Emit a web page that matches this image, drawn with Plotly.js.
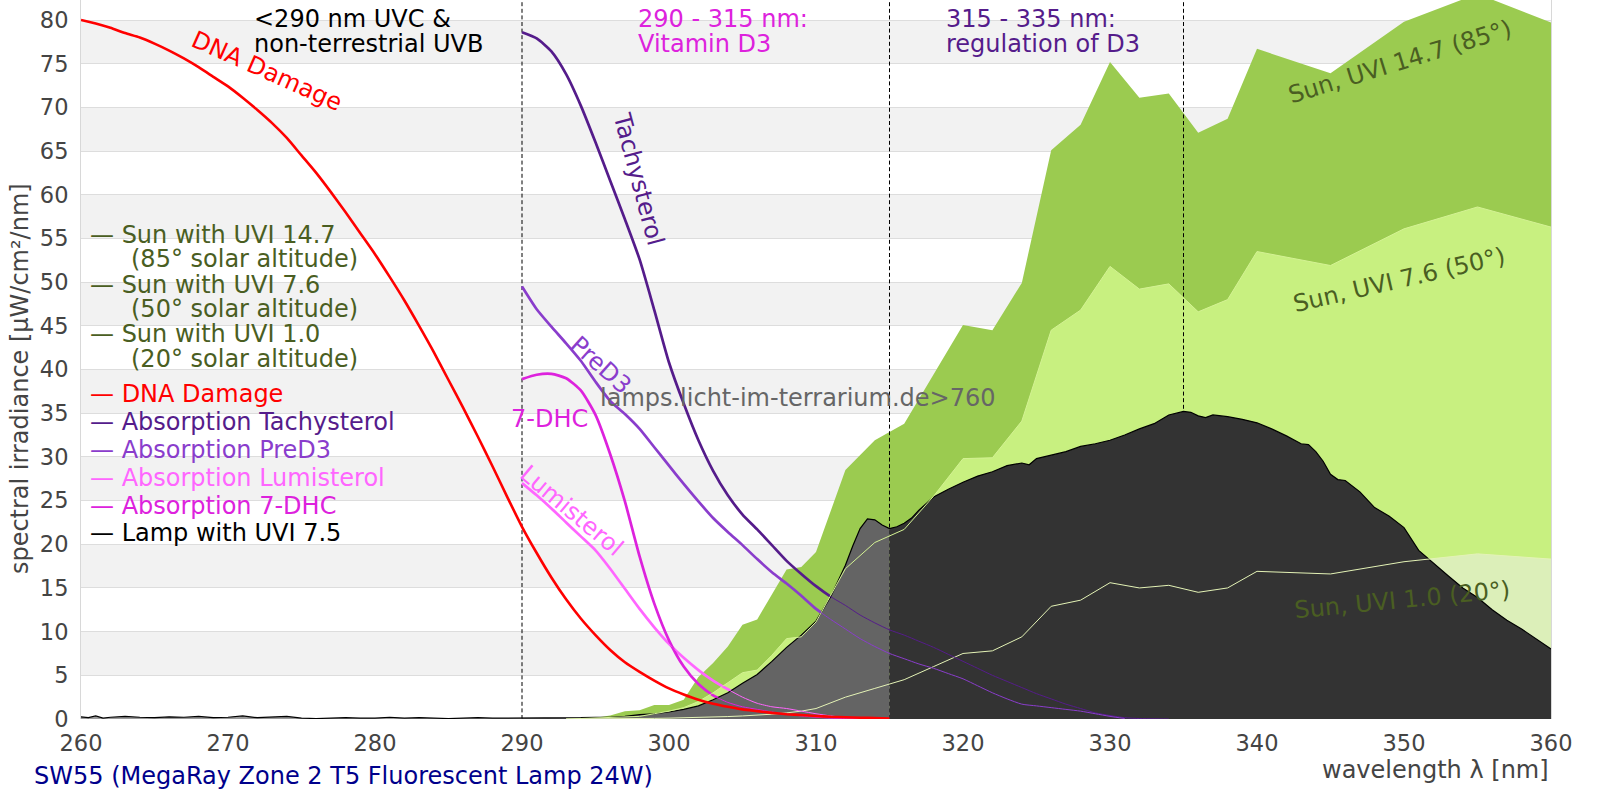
<!DOCTYPE html>
<html><head><meta charset="utf-8">
<script src="https://cdn.plot.ly/plotly-3.0.1.min.js"></script>
<style>html,body{margin:0;padding:0;background:#fff;} #chart{width:1600px;height:800px;}</style>
</head><body><div id="chart"></div>
<script>
// ---------------- data ----------------
const wlDna = [260,261,262,263,264,265,266,267,268,269,270,271,272,273,274,275,276,277,278,279,280,281,282,283,284,285,286,287,288,289,290,291,292,293,294,295,296,297,298,299,300,301,302,303,304,305,306,307,308,309,310,311,312,313,314,315];
const dnaDamage = [80.0,79.6,79.1,78.5,78.0,77.3,76.5,75.6,74.6,73.5,72.4,71.1,69.7,68.2,66.5,64.5,62.5,60.3,58.0,55.6,53.2,50.6,47.9,45.0,42.0,38.8,35.6,32.3,28.9,25.4,22.0,19.0,16.2,13.7,11.5,9.6,7.9,6.5,5.4,4.4,3.5,2.8,2.2,1.75,1.4,1.1,0.9,0.7,0.55,0.45,0.35,0.25,0.2,0.15,0.1,0.05];

const wlAbs = [290,291,292,293,294,295,296,297,298,299,300,301,302,303,304,305,306,307,308,309,310,311,312,313,314,315,316,317,318,319,320,321,322,323,324,325,326,327,328,329,330,331,332,333,334,335];
const tachysterol = [78.6,77.9,76.4,73.8,70.2,66.0,61.6,57.2,52.6,46.8,40.8,36.1,31.9,28.4,25.6,23.4,21.7,19.9,18.1,16.6,15.2,14.0,13.0,11.9,11.0,10.2,9.6,8.9,8.2,7.4,6.6,5.8,5.0,4.3,3.6,2.9,2.3,1.7,1.2,0.7,0.4,0.15,0.05,0.02,0.0];
const preD3 = [49.5,46.9,44.9,43.0,41.0,38.6,36.4,34.9,33.2,31.1,29.0,26.9,24.9,23.0,21.4,19.9,18.3,16.8,15.5,14.1,12.6,11.4,10.3,9.2,8.3,7.5,6.9,6.3,5.8,5.2,4.6,3.8,3.0,2.3,1.7,1.5,1.3,1.1,0.9,0.6,0.3,0.05];
const lumisterol = [27.0,25.6,24.1,22.5,20.9,19.3,17.2,14.9,12.6,10.5,8.6,7.0,5.6,4.4,3.4,2.5,1.8,1.4,1.2,0.9,0.6,0.35,0.15,0.05];
const dhc7 = [38.9,39.4,39.5,39.0,37.6,34.8,30.3,24.9,18.6,13.2,9.0,6.0,4.0,2.7,1.9,1.4,1.1,0.8,0.55,0.35,0.2,0.1,0.05,0.0];

const sunWl = [293,294,295,296,297,298,299,300,301,302,303,304,305,306,307,308,309,310,312,314,316,318,320,322,324,326,328,330,332,334,336,338,340,345,350,355,360];
const sunUvi147 = [0,0.05,0.15,0.4,0.9,1.0,1.6,1.6,2.2,4.8,6.4,8.3,10.8,11.4,14.2,17.1,17.4,19.1,28.5,31.9,33.8,39.4,45.1,44.5,49.9,65.1,68.0,75.2,71.1,71.6,67.1,68.7,76.7,73.9,79.8,83.0,79.7];
const sunUvi76 = [0,0.05,0.1,0.2,0.25,0.3,0.6,0.9,1.3,2.0,3.0,4.1,5.3,5.6,7.3,9.2,9.4,11.1,17.2,20.2,21.7,25.5,29.8,29.9,34.1,44.5,46.8,51.8,49.2,49.8,46.6,48.0,53.5,51.9,56.1,58.6,56.3];
const sunUvi10 = [0,0,0.01,0.02,0.03,0.05,0.07,0.1,0.13,0.17,0.22,0.28,0.35,0.42,0.55,0.7,0.9,1.2,2.5,3.5,4.5,6.0,7.5,7.8,9.4,12.9,13.6,15.6,15.0,15.3,14.5,15.0,16.9,16.6,18.0,18.9,18.3];

const lampWl = [260,260.5,261,261.5,262,263,264,265,266,267,268,269,270,271,272,273,274,275,276,277,278,279,280,281,282,283,284,285,286,287,288,289,290,291,292,293,294,295,296,297,298,299,300,301,302,303,304,305,306,307,308,309,310,311,312,312.5,313,313.5,314,314.5,315,315.5,316,316.5,317,318,319,320,321,322,323,324,324.5,325,326,327,328,329,330,331,332,333,334,335,335.5,336,336.5,337,338,339,340,341,342,343,343.5,344,344.5,345,345.5,346,347,348,349,350,351,352,353,354,355,356,357,358,359,360];
const lampUvi75 = [0.25,0.15,0.35,0.1,0.2,0.3,0.2,0.15,0.25,0.2,0.3,0.15,0.2,0.35,0.15,0.2,0.3,0.1,0.05,0.1,0.15,0.1,0.1,0.2,0.1,0.15,0.1,0.05,0.1,0.15,0.1,0.1,0.1,0.1,0.1,0.1,0.15,0.2,0.2,0.3,0.5,0.6,0.8,1.1,1.5,2.2,3.0,4.1,5.1,6.6,8.2,9.6,11.2,14.0,17.6,19.8,21.8,22.9,22.8,22.2,21.8,22.0,22.4,23.0,23.9,25.4,26.3,27.1,27.8,28.3,29.0,29.3,29.1,29.8,30.2,30.6,31.2,31.5,31.9,32.5,33.2,33.8,34.8,35.2,35.1,34.7,34.5,34.8,34.6,34.3,33.9,33.2,32.4,31.5,31.4,30.6,29.5,28.0,27.4,27.3,26.0,24.2,23.2,21.9,19.3,17.8,16.4,15.0,13.9,12.5,11.3,10.3,9.2,8.0];

const regionBounds = [290, 315, 335];
const xTicks = [260,270,280,290,300,310,320,330,340,350,360];

const legendLabels = ['— Sun with UVI 14.7','(85° solar altitude)','— Sun with UVI 7.6','(50° solar altitude)','— Sun with UVI 1.0','(20° solar altitude)','— DNA Damage','— Absorption Tachysterol','— Absorption PreD3','— Absorption Lumisterol','— Absorption 7-DHC','— Lamp with UVI 7.5'];

// ---------------- styles ----------------
const FONT = 'DejaVu Sans, sans-serif';
const FS = 24;
const C = {
  sun147: '#9bcb50', sun76: '#c8f080', sun10: '#dcefb9',
  sun76Line: '#d4f294', sun10Line: '#e4f3b6',
  dna: '#ff0000', tachy: '#551c8b', pre: '#8a3dcc', lumi: '#ff66ff', dhc: '#dd22dd',
  sunText: '#4a5e22', lampLow: '#9a9a9a', lampUvb: '#646464', lampUva: '#333333',
  tick: '#444444'
};
const legendColors = [C.sunText,C.sunText,C.sunText,C.sunText,C.sunText,C.sunText,C.dna,C.tachy,C.pre,C.lumi,C.dhc,'#000000'];
const legendIndent = [false,true,false,true,false,true,false,false,false,false,false,false];
const legendY = [55.4,52.6,49.7,46.9,44.1,41.2,37.2,34.0,30.8,27.6,24.4,21.3];

const YTOP = 80 + 20 / 8.7375;

// ---------------- traces ----------------
const traces = [];
function sunFill(y, color) {
  return {x: sunWl, y: y, type: 'scatter', mode: 'lines', fill: 'tozeroy', fillcolor: color,
          line: {width: 0, color: color}, hoverinfo: 'skip', showlegend: false};
}
traces.push(sunFill(sunUvi147, C.sun147));
traces.push(sunFill(sunUvi76, C.sun76));
traces.push(sunFill(sunUvi10, C.sun10));

regionBounds.forEach(b => traces.push({x: [b, b], y: [0, YTOP], type: 'scatter', mode: 'lines',
  line: {color: '#000', width: 1, dash: '4px,2.6px'}, hoverinfo: 'skip', showlegend: false}));

const absSeries = [[tachysterol, C.tachy], [preD3, C.pre], [lumisterol, C.lumi], [dhc7, C.dhc]];
function absLine(vals, color, w) {
  return {x: wlAbs.slice(0, vals.length), y: vals, type: 'scatter', mode: 'lines',
          line: {color: color, width: w, shape: 'spline', smoothing: 0.6}, hoverinfo: 'skip', showlegend: false};
}
absSeries.forEach(s => traces.push(absLine(s[0], s[1], 2.7)));

function lampSeg(lo, hi, color) {
  const xs = [], ys = [];
  lampWl.forEach((w, i) => { if (w >= lo && w <= hi) { xs.push(w); ys.push(lampUvi75[i]); } });
  return {x: xs, y: ys, type: 'scatter', mode: 'lines', fill: 'tozeroy', fillcolor: color,
          line: {width: 0, color: color}, hoverinfo: 'skip', showlegend: false};
}
traces.push(lampSeg(260, regionBounds[0], C.lampLow));
traces.push(lampSeg(regionBounds[0], regionBounds[1], C.lampUvb));
traces.push(lampSeg(regionBounds[1], 360, C.lampUva));
traces.push({x: lampWl, y: lampUvi75, type: 'scatter', mode: 'lines', line: {color: '#000', width: 1.2},
             hoverinfo: 'skip', showlegend: false});

traces.push({x: sunWl, y: sunUvi76, type: 'scatter', mode: 'lines', line: {color: C.sun76Line, width: 1}, hoverinfo: 'skip', showlegend: false});
traces.push({x: sunWl, y: sunUvi10, type: 'scatter', mode: 'lines', line: {color: C.sun10Line, width: 1}, hoverinfo: 'skip', showlegend: false});

absSeries.forEach(s => traces.push(absLine(s[0], s[1], 1)));
traces.push({x: wlDna, y: dnaDamage, type: 'scatter', mode: 'lines', line: {color: C.dna, width: 2.6, shape: 'spline', smoothing: 0.6},
             hoverinfo: 'skip', showlegend: false});

// ---------------- shapes (grey bands) ----------------
const shapes = [];
for (let k = 5; k < 80; k += 10) {
  shapes.push({type: 'rect', xref: 'paper', yref: 'y', x0: 0, x1: 1, y0: k, y1: k + 5,
               fillcolor: '#f2f2f2', line: {width: 0}, layer: 'below'});
}

// ---------------- annotations ----------------
const ann = [];
function txt(text, x, y, color, opts) {
  return Object.assign({text: text, x: x, y: y, xref: 'x', yref: 'y', showarrow: false,
    font: {family: FONT, size: FS, color: color}, xanchor: 'left', yanchor: 'middle'}, opts || {});
}
legendLabels.forEach((t, i) => ann.push(txt(t, legendIndent[i] ? 263.24 : 260.5, legendY[i], legendColors[i])));

ann.push(txt('&lt;290 nm UVC &amp;', 271.6, 80.1, '#000'));
ann.push(txt('non-terrestrial UVB', 271.6, 77.3, '#000'));
ann.push(txt('290 - 315 nm:', 297.75, 80.1, C.dhc));
ann.push(txt('Vitamin D3', 297.75, 77.3, C.dhc));
ann.push(txt('315 - 335 nm:', 318.7, 80.1, C.tachy));
ann.push(txt('regulation of D3', 318.7, 77.3, C.tachy));

ann.push(txt('DNA Damage', 272.64, 74.16, C.dna, {xanchor: 'center', textangle: 24}));
ann.push(txt('Tachysterol', 297.92, 61.78, C.tachy, {xanchor: 'center', textangle: 75}));
ann.push(txt('PreD3', 295.35, 40.53, C.pre, {xanchor: 'center', textangle: 42}));
ann.push(txt('7-DHC', 291.88, 34.33, C.dhc, {xanchor: 'center'}));
ann.push(txt('Lumisterol', 293.40, 23.83, C.lumi, {xanchor: 'center', textangle: 40}));
ann.push(txt('lamps.licht-im-terrarium.de&gt;760', 308.79, 36.78, '#666666', {xanchor: 'center'}));

ann.push(txt('Sun, UVI 14.7 (85°)', 349.7, 75.2, C.sunText, {xanchor: 'center', textangle: -17}));
ann.push(txt('Sun, UVI 7.6 (50°)', 349.7, 50.2, C.sunText, {xanchor: 'center', textangle: -13}));
ann.push(txt('Sun, UVI 1.0 (20°)', 349.9, 13.6, C.sunText, {xanchor: 'center', textangle: -5.5}));

ann.push({text: 'wavelength λ [nm]', xref: 'paper', yref: 'paper', x: 1, y: 0, xanchor: 'right', yanchor: 'middle',
          yshift: -51, showarrow: false, font: {family: FONT, size: FS, color: C.tick}});
ann.push({text: 'spectral irradiance [µW/cm²/nm]', xref: 'paper', yref: 'y', x: 0, y: 38.9, xanchor: 'center', yanchor: 'middle',
          xshift: -61, textangle: -90, showarrow: false, font: {family: FONT, size: FS, color: C.tick}});
ann.push({text: 'SW55 (MegaRay Zone 2 T5 Fluorescent Lamp 24W)', xref: 'paper', yref: 'paper', x: 0, y: 0,
          xanchor: 'left', yanchor: 'middle', xshift: -49, yshift: -57, showarrow: false,
          font: {family: FONT, size: FS, color: '#00008b'}});

const layout = {
  width: 1600, height: 800,
  margin: {l: 81, r: 49, t: 0, b: 81, pad: 0},
  paper_bgcolor: '#ffffff', plot_bgcolor: '#ffffff',
  showlegend: false,
  font: {family: FONT, size: FS, color: C.tick},
  xaxis: {range: [260, 360], tickvals: xTicks, ticks: '', showgrid: false, zeroline: false, showline: false,
          tickfont: {family: FONT, size: 22.5, color: C.tick}, ticklabelstandoff: 8, fixedrange: true},
  yaxis: {range: [0, YTOP], tick0: 0, dtick: 5, ticks: '', showgrid: true, gridcolor: '#dddddd', gridwidth: 1,
          zeroline: false, showline: true, linecolor: '#d8d8d8', linewidth: 1, mirror: true,
          tickfont: {family: FONT, size: 22.5, color: C.tick}, ticklabelstandoff: 7, fixedrange: true},
  shapes: shapes,
  annotations: ann
};

Plotly.newPlot('chart', traces, layout, {displayModeBar: false, staticPlot: true});
</script>
</body></html>
